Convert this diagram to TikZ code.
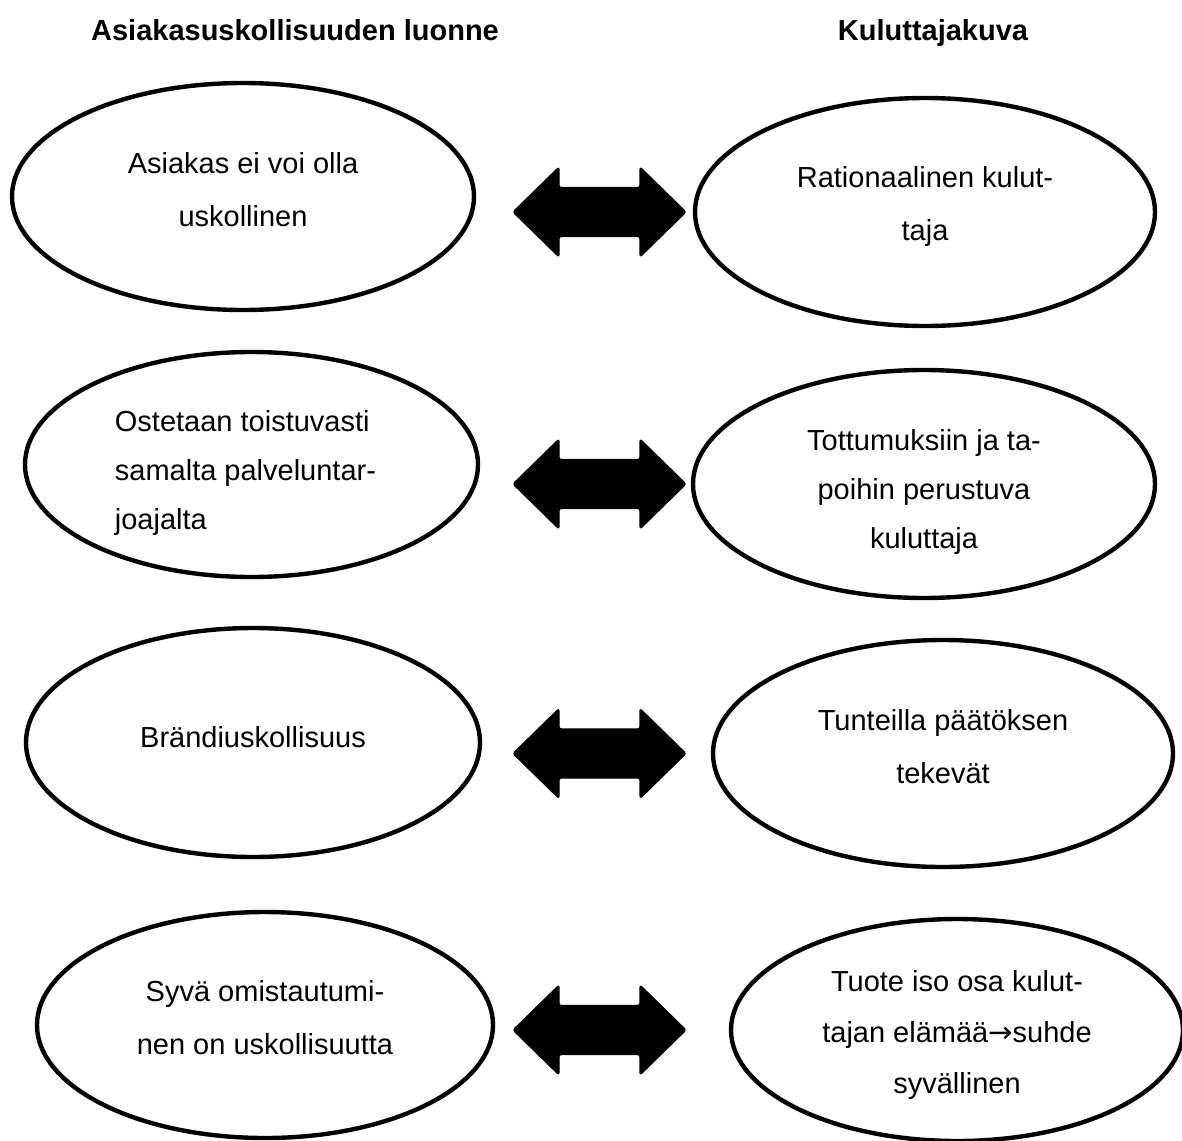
\documentclass[tikz,border=0pt]{standalone}
\usepackage{fontspec}
\setmainfont{Liberation Sans}
\newfontfamily\arrowfont{DejaVu Sans}
\usetikzlibrary{shapes.geometric}

\tikzset{
  oval/.style={ellipse, draw=black, line width=2.2pt, fill=white, inner sep=0pt},
  ovaltext/.style={inner sep=0pt, align=center, font=\fontsize{14.5}{26.5}\selectfont},
  ovaltextiii/.style={ovaltext, font=\fontsize{14.5}{24.5}\selectfont},
  heading/.style={anchor=base, font=\fontsize{14.5}{17}\selectfont\bfseries},
  dblarrow/.style={fill=black, draw=black, line width=0.6pt, line join=round, rounded corners=1.2pt}
}

% double-headed block arrow centred on a named coordinate
\newcommand{\blockarrow}[1]{%
  \fill[dblarrow] ([shift={(-86.5,0)}]#1) -- ([shift={(-40.5,-45)}]#1) -- ([shift={(-40.5,-24.5)}]#1)
    -- ([shift={(40.5,-24.5)}]#1) -- ([shift={(40.5,-45)}]#1) -- ([shift={(86.5,0)}]#1)
    -- ([shift={(40.5,45)}]#1) -- ([shift={(40.5,24.5)}]#1) -- ([shift={(-40.5,24.5)}]#1)
    -- ([shift={(-40.5,45)}]#1) -- cycle;}

\begin{document}
\begin{tikzpicture}[x=0.5pt, y=-0.5pt]
  \useasboundingbox (0,0) rectangle (1182,1140);

  % column headings
  \node[heading] (hleft)  at (295,40) {Asiakasuskollisuuden luonne};
  \node[heading] (hright) at (933,40) {Kuluttajakuva};

  % left column: nature of customer loyalty
  \node[oval, minimum width=231pt, minimum height=113.5pt] (l1) at (243,196.5) {};
  \node[oval, minimum width=226.5pt, minimum height=112.5pt] (l2) at (251.5,464.5) {};
  \node[oval, minimum width=227pt, minimum height=114.5pt] (l3) at (253,742.5) {};
  \node[oval, minimum width=228pt, minimum height=113pt] (l4) at (265,1025) {};

  \node[ovaltext] (l1t) at ([yshift=3.25pt]l1.center) {Asiakas ei voi olla\\uskollinen};
  \node[ovaltextiii, align=left] (l2t) at ([xshift=-3pt, yshift=-4pt]l2.center)
    {Ostetaan toistuvasti\\samalta palveluntar-\\joajalta};
  \node[ovaltext] (l3t) at ([yshift=2.75pt]l3.center) {Brändiuskollisuus};
  \node[ovaltext] (l4t) at ([yshift=3.75pt]l4.center) {Syvä omistautumi-\\nen on uskollisuutta};

  % right column: consumer profile
  \node[oval, minimum width=230pt, minimum height=114pt] (r1) at (925,212) {};
  \node[oval, minimum width=231pt, minimum height=114pt] (r2) at (924,484) {};
  \node[oval, minimum width=230pt, minimum height=113.5pt] (r3) at (943,753.5) {};
  \node[oval, minimum width=226pt, minimum height=111pt] (r4) at (957,1030) {};

  \node[ovaltext] (r1t) at ([yshift=2.75pt]r1.center) {Rationaalinen kulut-\\taja};
  \node[ovaltextiii] (r2t) at ([yshift=-3.75pt]r2.center)
    {Tottumuksiin ja ta-\\poihin perustuva\\kuluttaja};
  \node[ovaltext] (r3t) at ([yshift=3.5pt]r3.center) {Tunteilla päätöksen\\tekevät};
  \node[ovaltextiii, font=\fontsize{14.5}{25.5}\selectfont] (r4t) at ([yshift=-2.25pt]r4.center)
    {Tuote iso osa kulut-\\tajan elämää{\arrowfont →}suhde\\syvällinen};

  % arrows between the columns
  \coordinate (a1) at (599.5,212);
  \coordinate (a2) at (599.5,484);
  \coordinate (a3) at (599.5,753.5);
  \coordinate (a4) at (599.5,1030);
  \blockarrow{a1}
  \blockarrow{a2}
  \blockarrow{a3}
  \blockarrow{a4}
\end{tikzpicture}
\end{document}
